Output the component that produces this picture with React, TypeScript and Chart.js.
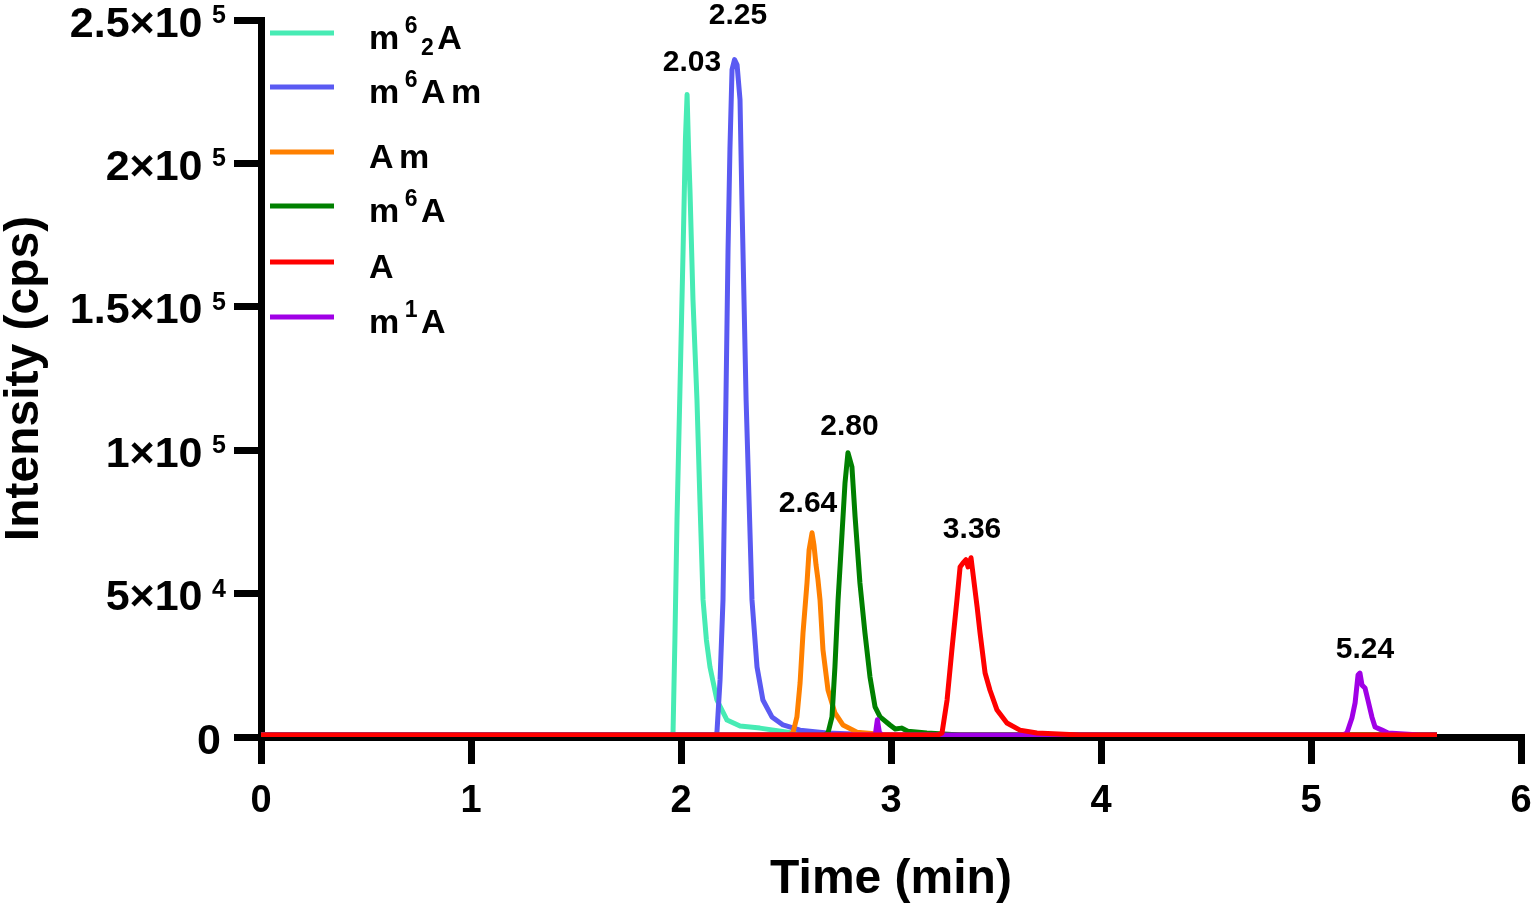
import { useEffect, useRef } from 'react';
import { Chart, registerables, type Plugin } from 'chart.js';

Chart.register(...registerables);

const FONT = "'Liberation Sans', Arial, sans-serif";

// legend order; ^{..} superscript, _{..} subscript
const seriesNames = ['m^{6}_{2}A', 'm^{6}Am', 'Am', 'm^{6}A', 'A', 'm^{1}A'];
const seriesColors = ['#47EBB4', '#5A5AF2', '#FF8000', '#008000', '#FF0000', '#A000E6'];
const seriesOrder = [5, 4, 3, 2, 0, 1]; // lower = drawn on top (red baseline over all)

// retention time (min) / intensity (cps)
const m62aTime = [0, 1.948, 1.962, 1.971, 1.981, 1.995, 2.01, 2.021, 2.029, 2.036, 2.043, 2.057, 2.076, 2.09, 2.105, 2.121, 2.138, 2.171, 2.219, 2.281, 2.376, 2.533, 2.805, 5.6];
const m62aIntensity = [700, 700, 1400, 33800, 75700, 121100, 169900, 208300, 224000, 205000, 190000, 152500, 117600, 82700, 47800, 33800, 24400, 12900, 5900, 3800, 3100, 1400, 700, 700];

const m6amTime = [0, 2.157, 2.171, 2.186, 2.2, 2.214, 2.224, 2.233, 2.243, 2.255, 2.267, 2.281, 2.29, 2.3, 2.31, 2.324, 2.338, 2.362, 2.39, 2.433, 2.486, 2.567, 2.695, 2.948, 5.6];
const m6amIntensity = [700, 700, 1400, 19900, 47800, 117600, 169900, 204800, 232700, 236200, 234400, 222200, 187400, 152500, 117600, 82700, 47800, 24400, 12900, 7000, 4200, 2400, 1400, 700, 700];

const amTime = [0, 2.51, 2.533, 2.552, 2.567, 2.581, 2.6, 2.61, 2.624, 2.633, 2.643, 2.652, 2.662, 2.676, 2.7, 2.733, 2.771, 2.838, 2.948, 3.043, 5.6];
const amIntensity = [700, 700, 1400, 7000, 18800, 36300, 53700, 65200, 71200, 67000, 60000, 55000, 47800, 30400, 16400, 8400, 4200, 1700, 1000, 700, 700];

const m6aTime = [0, 2.681, 2.7, 2.719, 2.733, 2.748, 2.767, 2.781, 2.795, 2.814, 2.829, 2.852, 2.876, 2.9, 2.924, 2.948, 2.995, 3.02, 3.05, 3.08, 3.171, 3.329, 5.6];
const m6aIntensity = [700, 700, 1400, 7000, 24400, 47800, 71200, 88600, 99100, 94200, 76800, 53700, 36300, 20900, 10500, 7000, 4200, 2800, 3100, 2000, 1400, 700, 700];

const aTime = [0, 3.224, 3.243, 3.267, 3.29, 3.314, 3.329, 3.343, 3.357, 3.367, 3.381, 3.39, 3.41, 3.424, 3.448, 3.471, 3.505, 3.552, 3.614, 3.695, 3.9, 5.6];
const aIntensity = [700, 700, 1400, 12900, 30400, 47800, 59300, 60700, 61800, 59300, 62500, 57200, 45400, 36300, 22300, 16400, 9400, 4900, 2400, 1400, 700, 700];

const m1aTime = [0, 2.925, 2.935, 2.945, 2.96, 5.152, 5.171, 5.195, 5.21, 5.224, 5.233, 5.243, 5.257, 5.271, 5.29, 5.305, 5.338, 5.367, 5.519, 5.6];
const m1aIntensity = [700, 700, 6000, 1500, 700, 700, 1400, 6600, 11900, 21600, 22300, 18100, 17100, 12900, 7000, 3500, 2400, 1400, 700, 700];

const seriesTimes = [m62aTime, m6amTime, amTime, m6aTime, aTime, m1aTime];
const seriesIntensities = [m62aIntensity, m6amIntensity, amIntensity, m6aIntensity, aIntensity, m1aIntensity];

// peak annotations: text, centre time, baseline level (cps)
const peakLabelText = ['2.03', '2.25', '2.64', '2.80', '3.36', '5.24'];
const peakLabelTime = [2.052, 2.271, 2.605, 2.802, 3.386, 5.257];
const peakLabelLevel = [232100, 248500, 78500, 105400, 69500, 27600];

const xTitle = 'Time (min)';
const yTitle = 'Intensity (cps)';

function drawRich(ctx: CanvasRenderingContext2D, label: string, x: number, baseline: number) {
  const parts = [...label.matchAll(/\^\{([^}]*)\}|_\{([^}]*)\}|([^^_]+)/g)];
  let cx = x;
  for (const p of parts) {
    let text = p[3];
    let size = 34;
    let dy = 0;
    if (p[1] !== undefined) { text = p[1]; size = 23; dy = -16; }
    else if (p[2] !== undefined) { text = p[2]; size = 23; dy = 6; }
    ctx.font = `bold ${size}px ${FONT}`;
    for (const ch of text) {
      ctx.fillText(ch, cx, baseline + dy);
      cx += ctx.measureText(ch).width + (size < 30 ? 3.5 : 5.5);
    }
  }
}

const legendRowY = [33, 87, 152, 206, 262, 317];

const overlay: Plugin<'line'> = {
  id: 'overlay',
  afterDraw(chart) {
    const { ctx, chartArea, scales } = chart;
    const xs = scales.x;
    const ys = scales.y;
    ctx.save();
    ctx.fillStyle = '#000';
    ctx.textBaseline = 'alphabetic';

    // y tick labels as a×10^n
    for (const t of ys.ticks) {
      const py = ys.getPixelForValue(t.value);
      if (t.value === 0) {
        ctx.font = `bold 43px ${FONT}`;
        ctx.textAlign = 'right';
        ctx.fillText('0', chartArea.left - 40, py + 16.5);
        continue;
      }
      const e = Math.floor(Math.log10(t.value) + 1e-9);
      const m = parseFloat((t.value / Math.pow(10, e)).toFixed(2));
      ctx.font = `bold 43px ${FONT}`;
      ctx.textAlign = 'right';
      ctx.fillText(`${m}×10`, chartArea.left - 58.5, py + 16.5);
      ctx.font = `bold 25px ${FONT}`;
      ctx.textAlign = 'left';
      ctx.fillText(String(e), chartArea.left - 49, py + 3);
    }

    // axis titles
    ctx.font = `bold 48px ${FONT}`;
    ctx.textAlign = 'center';
    ctx.fillText(xTitle, (chartArea.left + chartArea.right) / 2, chartArea.bottom + 156);
    ctx.save();
    ctx.translate(38, (chartArea.top + chartArea.bottom) / 2);
    ctx.rotate(-Math.PI / 2);
    ctx.fillText(yTitle, 0, 0);
    ctx.restore();

    // peak labels
    ctx.font = `bold 30px ${FONT}`;
    ctx.textAlign = 'center';
    peakLabelText.forEach((txt, i) => {
      ctx.fillText(txt, xs.getPixelForValue(peakLabelTime[i]), ys.getPixelForValue(peakLabelLevel[i]));
    });

    // legend
    ctx.textAlign = 'left';
    chart.data.datasets.forEach((ds, i) => {
      const ly = legendRowY[i];
      ctx.strokeStyle = ds.borderColor as string;
      ctx.lineWidth = 5;
      ctx.lineCap = 'butt';
      ctx.beginPath();
      ctx.moveTo(chartArea.left + 9, ly);
      ctx.lineTo(chartArea.left + 73, ly);
      ctx.stroke();
      drawRich(ctx, ds.label as string, chartArea.left + 108, ly + 16);
    });
    ctx.restore();
  },
};

export default function App() {
  const canvasRef = useRef<HTMLCanvasElement>(null);

  useEffect(() => {
    if (!canvasRef.current) return;
    const axisGrid = { display: true, drawOnChartArea: false, color: '#000', lineWidth: 7, tickLength: 27 };
    const axisBorder = { display: true, color: '#000', width: 7 };
    const chart = new Chart(canvasRef.current, {
      type: 'line',
      data: {
        datasets: seriesNames.map((name, i) => ({
          label: name,
          data: seriesTimes[i].map((t, k) => ({ x: t, y: seriesIntensities[i][k] })),
          borderColor: seriesColors[i],
          backgroundColor: seriesColors[i],
          borderWidth: 5,
          pointRadius: 0,
          tension: 0,
          fill: false,
          order: seriesOrder[i],
          borderJoinStyle: 'round' as const,
        })),
      },
      options: {
        responsive: false,
        animation: false,
        events: [],
        layout: { padding: { left: 0, top: 20, right: 14, bottom: 0 } },
        plugins: { legend: { display: false }, tooltip: { enabled: false } },
        scales: {
          x: {
            type: 'linear',
            min: 0,
            max: 6,
            ticks: {
              stepSize: 1,
              color: '#000',
              padding: 15,
              maxRotation: 0,
              font: { family: FONT, size: 38, weight: 'bold' },
            },
            grid: axisGrid,
            border: axisBorder,
            afterFit: (s) => {
              s.height = 170;
              s.paddingLeft = 0;
              s.paddingRight = 0;
            },
          },
          y: {
            type: 'linear',
            min: 0,
            max: 250000,
            ticks: { stepSize: 50000, display: false },
            grid: axisGrid,
            border: axisBorder,
            afterFit: (s) => { s.width = 261; },
          },
        },
      },
      plugins: [overlay],
    });
    return () => chart.destroy();
  }, []);

  return (
    <canvas
      ref={canvasRef}
      width={1535}
      height={907}
      style={{ position: 'absolute', left: 0, top: 0, background: '#fff' }}
    />
  );
}
